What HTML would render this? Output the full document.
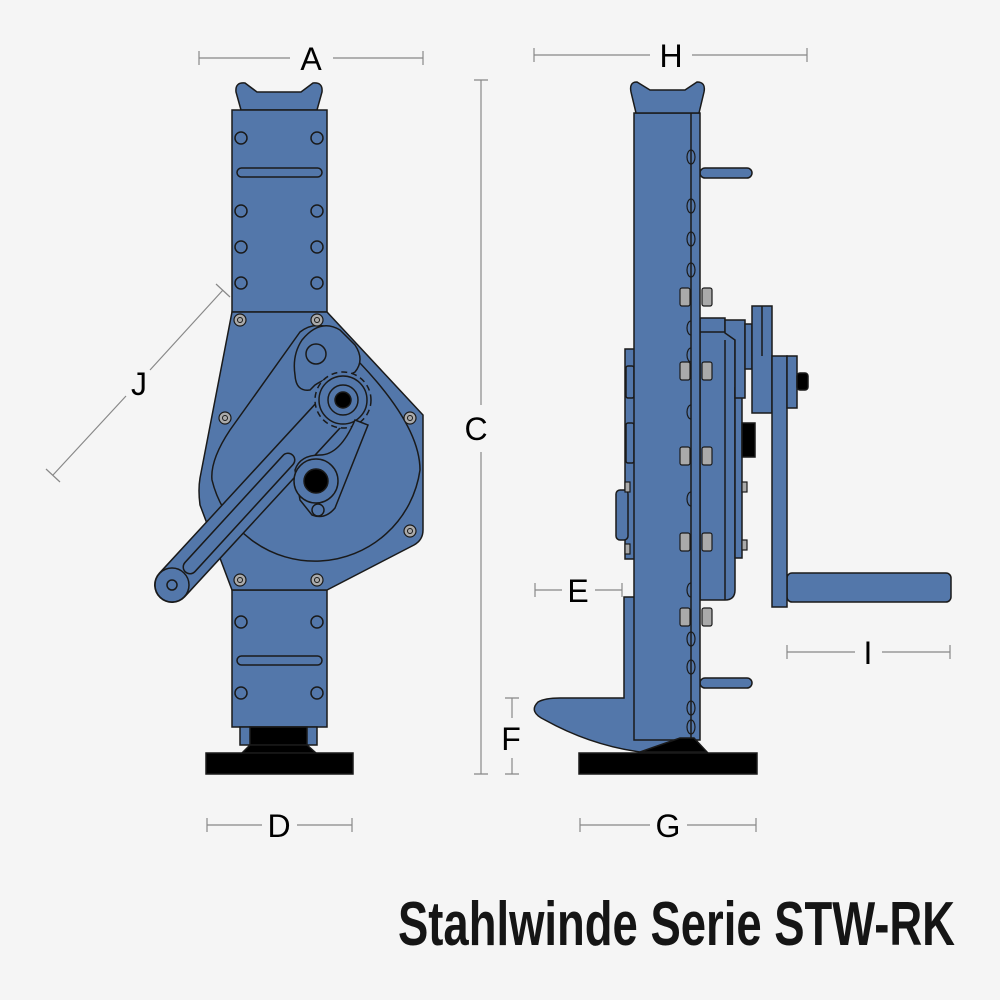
<!DOCTYPE html>
<html><head><meta charset="utf-8"><style>
html,body{margin:0;padding:0;background:#f5f5f5}
svg{display:block}
text{font-family:"Liberation Sans",sans-serif}
</style></head><body>
<svg width="1000" height="1000" viewBox="0 0 1000 1000" xmlns="http://www.w3.org/2000/svg">
<rect width="1000" height="1000" fill="#f5f5f5"/>
<g stroke="#888" stroke-width="1.2" fill="none">
<path d="M199 58H290M333 58H423M199 51V65M423 51V65"/>
<path d="M534 55H650M692 55H807M534 48V62M807 48V62"/>
<path d="M481 80V405M481 452V774M474 80H488M474 774H488"/>
<path d="M207 825H262M297 825H352M207 818V832M352 818V832"/>
<path d="M580 825H650M687 825H756M580 818V832M756 818V832"/>
<path d="M535 590H562M595 590H622M535 583V597M622 583V597"/>
<path d="M787 652H855M882 652H950M787 645V659M950 645V659"/>
<path d="M512 698V718M512 758V774M505 698H519M505 774H519"/>
<path d="M223 290L150 370M126 396L53 475M216 284L230 297M46 469L60 482"/>
</g>
<g font-size="32" fill="#000" text-anchor="middle">
<text x="311" y="70">A</text><text x="671" y="67">H</text><text x="476" y="440">C</text>
<text x="279" y="837">D</text><text x="668" y="837">G</text><text x="578" y="602">E</text>
<text x="868" y="664">I</text><text x="511" y="750">F</text><text x="139" y="395">J</text>
</g>
<text x="398" y="945" font-size="62" font-weight="bold" fill="#151515" textLength="557" lengthAdjust="spacingAndGlyphs">Stahlwinde Serie STW-RK</text>

<g stroke="#1a1a1a" stroke-width="1.5" fill="#5377aa">
<path d="M241 110L236 92Q235 82 245 83L257 92H301L313 83Q323 82 322 92L317 110Z"/>
<rect x="232" y="110" width="95" height="202"/>
<rect x="237" y="168" width="85" height="9" rx="4.5"/>
<circle cx="241" cy="138" r="6"/><circle cx="317" cy="138" r="6"/>
<circle cx="241" cy="211" r="6"/><circle cx="317" cy="211" r="6"/>
<circle cx="241" cy="247" r="6"/><circle cx="317" cy="247" r="6"/>
<circle cx="241" cy="283" r="6"/><circle cx="317" cy="283" r="6"/>
<rect x="232" y="590" width="95" height="137"/>
<rect x="237" y="656" width="85" height="9" rx="4.5"/>
<circle cx="241" cy="622" r="6"/><circle cx="317" cy="622" r="6"/>
<circle cx="241" cy="693" r="6"/><circle cx="317" cy="693" r="6"/>
<rect x="240" y="727" width="77" height="18"/>
<rect x="250" y="727" width="57" height="18" fill="#000"/>
<path d="M250 745H307L316 753H242Z" fill="#000"/>
<rect x="206" y="753" width="147" height="21" fill="#000"/>
<path d="M232 312H327L423 415V530Q423 540 414 545L327 590H232L200 505Q198 490 200 478Z"/>
<path d="M300 332Q315 320 335 330L342 345Q420 420 420 470A106 106 0 0 1 212 480Q210 460 230 430Z" fill="none"/>
<path d="M302 340Q320 318 340 330L355 345Q365 360 355 372L345 377Q330 375 315 385L310 390Q296 392 295 375Q292 355 302 340Z"/>
<circle cx="316" cy="354" r="10"/>
</g>
<!-- crank arm -->
<line x1="172" y1="585" x2="335" y2="408" stroke="#1a1a1a" stroke-width="36" stroke-linecap="round"/>
<line x1="172" y1="585" x2="335" y2="408" stroke="#5377aa" stroke-width="33" stroke-linecap="round"/>
<line x1="190" y1="567" x2="288" y2="460" stroke="#1a1a1a" stroke-width="15" stroke-linecap="round"/>
<line x1="190" y1="567" x2="288" y2="460" stroke="#5377aa" stroke-width="12" stroke-linecap="round"/>
<g stroke="#1a1a1a" stroke-width="1.5" fill="#5377aa">
<circle cx="172" cy="585" r="17"/>
<circle cx="172" cy="585" r="5"/>
<circle cx="343" cy="400" r="28" stroke-dasharray="6 4"/>
<circle cx="343" cy="400" r="24"/>
<circle cx="343" cy="400" r="15"/>
<circle cx="343" cy="400" r="8" fill="#000"/>
<path d="M295 470Q300 455 320 455Q340 455 355 420L368 425L335 508Q325 520 312 515L300 500Z"/>
<circle cx="316" cy="481" r="22"/>
<circle cx="316" cy="481" r="12" fill="#000"/>
<circle cx="318" cy="510" r="6"/>
</g>
<g stroke="#1a1a1a" stroke-width="1.2" fill="#aaa">
<circle cx="240" cy="320" r="6"/><circle cx="317" cy="320" r="6"/>
<circle cx="225" cy="418" r="6"/><circle cx="410" cy="418" r="6"/>
<circle cx="410" cy="531" r="6"/><circle cx="240" cy="580" r="6"/><circle cx="317" cy="580" r="6"/>
</g>
<g fill="none" stroke="#1a1a1a" stroke-width="1">
<circle cx="240" cy="320" r="2.5"/><circle cx="317" cy="320" r="2.5"/>
<circle cx="225" cy="418" r="2.5"/><circle cx="410" cy="418" r="2.5"/>
<circle cx="410" cy="531" r="2.5"/><circle cx="240" cy="580" r="2.5"/><circle cx="317" cy="580" r="2.5"/>
</g>

<!-- RIGHT VIEW -->
<g stroke="#1a1a1a" stroke-width="1.5" fill="#5377aa">
<rect x="787" y="573" width="164" height="29" rx="5"/>
<rect x="700" y="168" width="52" height="10" rx="5"/>
<rect x="700" y="678" width="52" height="10" rx="5"/>
<rect x="625" y="349" width="10" height="210"/>
<rect x="616" y="490" width="12" height="50" rx="4"/>
<rect x="626" y="366" width="8" height="32" rx="2"/>
<rect x="626" y="423" width="8" height="40" rx="2"/>
<path d="M700 330H735V590Q735 600 725 600H700Z"/>
<line x1="725" y1="340" x2="725" y2="600"/>
<rect x="735" y="388" width="7" height="170"/>
<rect x="742" y="423" width="13" height="34" fill="#000"/>
<rect x="700" y="318" width="25" height="14"/>
<path d="M725 320H745V398H735V340L725 333Z"/>
<rect x="745" y="324" width="7" height="45"/>
<rect x="752" y="306" width="20" height="107"/>
<line x1="762" y1="306" x2="762" y2="356"/>
<rect x="772" y="356" width="15" height="251"/>
<rect x="787" y="356" width="10" height="52"/>
<rect x="797" y="373" width="11" height="17" rx="3" fill="#000"/>
<path d="M624 597H648L683 735Q680 755 640 752Q590 745 545 720Q528 712 538 702Q545 698 560 698H624Z"/>
<path d="M634 113H700V740H634Z"/>
<line x1="691" y1="113" x2="691" y2="740"/>
<path d="M636 113L631 92Q629 82 637 82L650 90H685L697 82Q706 82 704 92L699 113Z"/>
<path d="M640 752L680 738H694L707 752Z" fill="#000"/>
<rect x="579" y="753" width="178" height="21" fill="#000"/>
</g>
<g stroke="#1a1a1a" stroke-width="1.2" fill="none">
<path d="M691 150a4 7 0 0 0 0 14M691 150a4 7 0 0 1 0 14M691 199a4 7 0 0 0 0 14M691 199a4 7 0 0 1 0 14M691 232a4 7 0 0 0 0 14M691 232a4 7 0 0 1 0 14M691 263a4 7 0 0 0 0 14M691 263a4 7 0 0 1 0 14M691 321a4 7 0 0 0 0 14M691 348a4 7 0 0 0 0 14M691 405a4 7 0 0 0 0 14M691 492a4 7 0 0 0 0 14M691 583a4 7 0 0 0 0 14M691 632a4 7 0 0 0 0 14M691 632a4 7 0 0 1 0 14M691 660a4 7 0 0 0 0 14M691 660a4 7 0 0 1 0 14M691 701a4 7 0 0 0 0 14M691 701a4 7 0 0 1 0 14M691 720a4 7 0 0 0 0 14M691 720a4 7 0 0 1 0 14"/>
</g>
<g stroke="#1a1a1a" stroke-width="1.2" fill="#aaa">
<rect x="680" y="288" width="10" height="18" rx="2"/><rect x="702" y="288" width="10" height="18" rx="2"/>
<rect x="680" y="362" width="10" height="18" rx="2"/><rect x="702" y="362" width="10" height="18" rx="2"/>
<rect x="680" y="447" width="10" height="18" rx="2"/><rect x="702" y="447" width="10" height="18" rx="2"/>
<rect x="680" y="533" width="10" height="18" rx="2"/><rect x="702" y="533" width="10" height="18" rx="2"/>
<rect x="680" y="608" width="10" height="18" rx="2"/><rect x="702" y="608" width="10" height="18" rx="2"/>
<rect x="742" y="482" width="5" height="10"/><rect x="742" y="540" width="5" height="10"/>
<rect x="625" y="482" width="5" height="10"/><rect x="625" y="544" width="5" height="10"/>
</g>
</svg>
</body></html>
